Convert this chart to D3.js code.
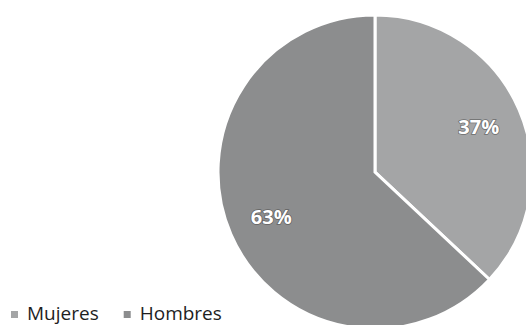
<!DOCTYPE html>
<html>
<head>
<meta charset="utf-8">
<script src="https://cdn.jsdelivr.net/npm/d3@7"></script>
<style>
  html, body { margin: 0; padding: 0; background: #ffffff; }
  svg { display: block; }
</style>
</head>
<body>
<svg id="chart" width="526" height="325"></svg>
<script>
// Gender split
const categories = ["Mujeres", "Hombres"];
const values = [37, 63];
const labels = ["37%", "63%"];

const svg = d3.select("#chart");
const cx = 375, cy = 172, radius = 157;

const color = d3.scaleOrdinal()
  .domain(categories)
  .range(["#a4a5a6", "#8c8d8e"]);

const pie = d3.pie().sort(null).value(d => d.v);
const data = pie(categories.map((c, i) => ({ c, v: values[i], l: labels[i] })));

const arc = d3.arc().innerRadius(0).outerRadius(radius);
const labelArc = d3.arc().innerRadius(radius * 0.72).outerRadius(radius * 0.72);

const g = svg.append("g").attr("transform", `translate(${cx},${cy})`);

g.selectAll("path.slice")
  .data(data)
  .join("path")
  .attr("class", "slice")
  .attr("d", arc)
  .attr("fill", d => color(d.data.c))
  .attr("stroke", "#ffffff")
  .attr("stroke-width", 3)
  .attr("stroke-linejoin", "miter");

g.selectAll("text.pct")
  .data(data)
  .join("text")
  .attr("class", "pct")
  .attr("transform", d => `translate(${labelArc.centroid(d)})`)
  .attr("text-anchor", "middle")
  .attr("dy", "0.35em")
  .attr("font-family", "'Open Sans', sans-serif")
  .attr("font-weight", 700)
  .attr("font-size", 20)
  .attr("fill", "#ffffff")
  .attr("stroke", "rgba(60,60,60,0.55)")
  .attr("stroke-width", 1.6)
  .attr("paint-order", "stroke")
  .text(d => d.data.l);

// Legend along the bottom left
const legend = svg.append("g").attr("transform", "translate(11,320)");
let x = 0;
categories.forEach((c, i) => {
  const item = legend.append("g").attr("transform", `translate(${x},0)`);
  item.append("rect")
    .attr("x", 0).attr("y", -9)
    .attr("width", 7).attr("height", 7)
    .attr("fill", color(c));
  const t = item.append("text")
    .attr("x", 16).attr("y", 0)
    .attr("font-family", "'Open Sans', sans-serif")
    .attr("font-size", 19)
    .attr("fill", "#1e1e1e")
    .text(c);
  x += 16 + t.node().getComputedTextLength() + 25;
});
</script>
</body>
</html>
